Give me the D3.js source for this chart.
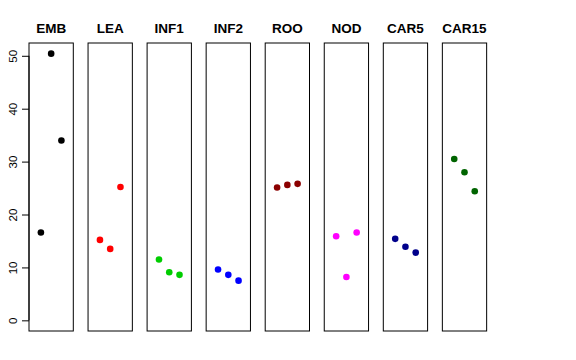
<!DOCTYPE html>
<html><head><meta charset="utf-8">
<script src="https://cdn.jsdelivr.net/npm/d3@7"></script>
<style>body{margin:0;background:#fff}svg{display:block}</style>
</head><body>
<script>
const categories = ["EMB","LEA","INF1","INF2","ROO","NOD","CAR5","CAR15"];
const colors = ["#000000","#ff0000","#00cd00","#0000ff","#8b0000","#ff00ff","#00008b","#006400"];
const values = [
  [16.6, 50.4, 34.0],
  [15.2, 13.5, 25.2],
  [11.5, 9.1, 8.6],
  [9.6, 8.6, 7.5],
  [25.1, 25.6, 25.8],
  [15.9, 8.2, 16.6],
  [15.4, 13.9, 12.8],
  [30.5, 28.0, 24.4]
];
const yTicks = [0,10,20,30,40,50];

(function(){
const W = 576, H = 360;
const svg = d3.select("body").append("svg").attr("width", W).attr("height", H);

const plotTop = 43, plotBottom = 331;
const panelW = 44.3, step = 59.05, left0 = 29;
const yMax = 50.4, yPad = yMax*0.04;
const y = d3.scaleLinear().domain([-yPad, yMax + yPad]).range([plotBottom, plotTop]);

categories.forEach((cat, i) => {
  const x0 = left0 + i*step;
  const x = d3.scaleLinear().domain([-0.16, 4.16]).range([x0, x0 + panelW]);
  const g = svg.append("g");
  g.append("rect").attr("x", x0).attr("y", plotTop).attr("width", panelW).attr("height", plotBottom - plotTop)
    .attr("fill", "none").attr("stroke", "#000").attr("stroke-width", 1);
  g.append("text").attr("x", x0 + panelW/2).attr("y", 33).attr("text-anchor", "middle")
    .attr("font-family", "Liberation Sans, Arial, sans-serif").attr("font-weight", "bold")
    .attr("font-size", 13.5).text(cat);
  g.selectAll("circle").data(values[i]).join("circle")
    .attr("cx", (d, j) => x(j + 1)).attr("cy", d => y(d)).attr("r", 3.3)
    .attr("fill", colors[i]);
  if (i === 0) {
    const ax = svg.append("g").attr("transform", `translate(${x0},0)`)
      .call(d3.axisLeft(y).tickValues(yTicks).tickSize(7).tickPadding(0).tickFormat(d3.format("d")));
    ax.select(".domain").attr("d", `M0,${y(0)}V${y(50)}`).attr("stroke", "#000");
    ax.selectAll(".tick line").attr("stroke", "#000");
    ax.selectAll(".tick text")
      .attr("font-family", "Liberation Sans, Arial, sans-serif").attr("font-size", 11.5)
      .attr("fill", "#000")
      .attr("transform", "translate(-16,0) rotate(-90)")
      .attr("x", 0).attr("dy", "0.35em").attr("text-anchor", "middle");
  }
});
})();
</script>
</body></html>
